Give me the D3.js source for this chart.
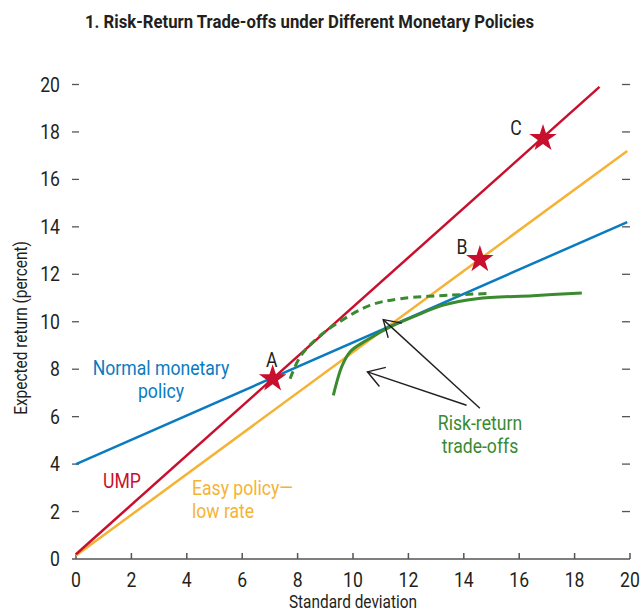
<!DOCTYPE html>
<html>
<head>
<meta charset="UTF-8">
<title>Risk-Return Trade-offs</title>
<script src="https://cdn.jsdelivr.net/npm/d3@7"></script>
<style>
    body { margin: 0; background: #fff; }
    svg text { font-family: 'Liberation Sans Narrow', 'Arial Narrow', 'Roboto', sans-serif; }
    .title { font-weight: bold; font-size: 19px; fill: #231f20; }
    .tick-label { font-size: 20px; fill: #231f20; }
    .axis-title { font-size: 17.5px; fill: #231f20; }
    .note { font-size: 20px; }
</style>
</head>
<body>
<div id="chart"></div>
<script>
// data
const xTicks = [0, 2, 4, 6, 8, 10, 12, 14, 16, 18, 20];
const yTicks = [0, 2, 4, 6, 8, 10, 12, 14, 16, 18, 20];

// straight policy lines: [x, y] endpoints
const normalLine = [[0, 4.0], [19.9, 14.2]];
const umpLine = [[0, 0.2], [18.9, 19.9]];
const easyLine = [[0, 0.15], [19.9, 17.2]];

// risk-return trade-off curves
const tradeoffSolid = [[9.29, 6.9], [9.45, 7.6], [9.59, 8.1], [9.89, 8.73], [10.49, 9.22], [11.34, 9.78],
    [12.3, 10.27], [13.26, 10.7], [14.47, 10.97], [16.5, 11.1], [18.26, 11.21]];
const tradeoffDashed = [[7.73, 7.6], [8.09, 8.52], [8.69, 9.29], [9.41, 9.92], [10.61, 10.69],
    [11.7, 10.97], [13.5, 11.12], [14.9, 11.19]];

// points A, B, C
const pointNames = ["A", "B", "C"];
const pointX = [7.1, 14.58, 16.86];
const pointY = [7.6, 12.62, 17.73];

// arrows from the note to the two curves: [tailX, tailY, tipX, tipY]
const arrows = [[14.58, 6.35, 11.09, 10.09], [14.1, 6.48, 10.52, 7.89]];

const W = 642, H = 612;
const red = "#c8102e", blue = "#0a7bc1", orange = "#f5b335", green = "#3b8a2f";

const svg = d3.select("#chart").append("svg")
    .attr("width", W).attr("height", H);

const x = d3.scaleLinear().domain([0, 20]).range([76, 630]);
const y = d3.scaleLinear().domain([0, 20]).range([559, 84.5]);

// title
svg.append("text").attr("class", "title")
    .attr("x", 85).attr("y", 28)
    .text("1. Risk-Return Trade-offs under Different Monetary Policies");

// x axis
svg.append("line")
    .attr("x1", 72).attr("x2", x(20))
    .attr("y1", y(0)).attr("y2", y(0))
    .attr("stroke", "#555").attr("stroke-width", 1.5);
svg.append("g").selectAll("line").data(xTicks).enter().append("line")
    .attr("x1", d => x(d)).attr("x2", d => x(d))
    .attr("y1", y(0)).attr("y2", y(0) - 6)
    .attr("stroke", "#555").attr("stroke-width", 1.5);
svg.append("g").selectAll("text").data(xTicks).enter().append("text")
    .attr("class", "tick-label")
    .attr("x", d => x(d)).attr("y", 587)
    .attr("text-anchor", "middle")
    .text(d => d);

// y ticks, both sides
svg.append("g").selectAll("line").data(yTicks.slice(1)).enter().append("line")
    .attr("x1", 72).attr("x2", 79)
    .attr("y1", d => y(d)).attr("y2", d => y(d))
    .attr("stroke", "#555").attr("stroke-width", 1.3);
svg.append("g").selectAll("line").data(yTicks.slice(1)).enter().append("line")
    .attr("x1", 622).attr("x2", 630)
    .attr("y1", d => y(d)).attr("y2", d => y(d))
    .attr("stroke", "#555").attr("stroke-width", 1.3);
svg.append("g").selectAll("text").data(yTicks).enter().append("text")
    .attr("class", "tick-label")
    .attr("x", 60).attr("y", d => y(d) + 7)
    .attr("text-anchor", "end")
    .text(d => d);

// axis titles
svg.append("text").attr("class", "axis-title")
    .attr("x", x(10)).attr("y", 608)
    .attr("text-anchor", "middle")
    .text("Standard deviation");
svg.append("text").attr("class", "axis-title")
    .attr("transform", "translate(27,328) rotate(-90)")
    .attr("text-anchor", "middle")
    .text("Expected return (percent)");

const line = d3.line().x(d => x(d[0])).y(d => y(d[1]));
const curve = d3.line().x(d => x(d[0])).y(d => y(d[1])).curve(d3.curveCatmullRom);

// policy lines
svg.append("path").datum(easyLine).attr("d", line)
    .attr("fill", "none").attr("stroke", orange).attr("stroke-width", 2.5);
svg.append("path").datum(normalLine).attr("d", line)
    .attr("fill", "none").attr("stroke", blue).attr("stroke-width", 2.5);
svg.append("path").datum(umpLine).attr("d", line)
    .attr("fill", "none").attr("stroke", red).attr("stroke-width", 2.5);

// trade-off curves
svg.append("path").datum(tradeoffSolid).attr("d", curve)
    .attr("fill", "none").attr("stroke", green).attr("stroke-width", 3);
svg.append("path").datum(tradeoffDashed).attr("d", curve)
    .attr("fill", "none").attr("stroke", green).attr("stroke-width", 3)
    .attr("stroke-dasharray", "8,5");

// stars
const star = d3.symbol().type(d3.symbolStar).size(235);
svg.append("g").selectAll("path").data(pointNames).enter().append("path")
    .attr("d", star)
    .attr("transform", (d, i) => `translate(${x(pointX[i])},${y(pointY[i])})`)
    .attr("fill", red);
const letterDx = [-1, -18, -27];
const letterDy = [-12, -6, -3];
svg.append("g").selectAll("text").data(pointNames).enter().append("text")
    .attr("class", "note")
    .attr("x", (d, i) => x(pointX[i]) + letterDx[i])
    .attr("y", (d, i) => y(pointY[i]) + letterDy[i])
    .attr("text-anchor", "middle")
    .attr("fill", "#231f20")
    .text(d => d);

// arrows
arrows.forEach(a => {
    const x0 = x(a[0]), y0 = y(a[1]), x1 = x(a[2]), y1 = y(a[3]);
    const ang = Math.atan2(y0 - y1, x0 - x1);
    const len = 19, spread = 0.56;
    svg.append("line")
        .attr("x1", x0).attr("y1", y0).attr("x2", x1).attr("y2", y1)
        .attr("stroke", "#231f20").attr("stroke-width", 1.4);
    svg.append("path")
        .attr("d", `M${x1 + len * Math.cos(ang - spread)},${y1 + len * Math.sin(ang - spread)}L${x1},${y1}L${x1 + len * Math.cos(ang + spread)},${y1 + len * Math.sin(ang + spread)}`)
        .attr("fill", "none").attr("stroke", "#231f20").attr("stroke-width", 1.4);
});

// line labels
function label(lines, px, py, color, anchor) {
    const t = svg.append("text").attr("class", "note")
        .attr("fill", color).attr("text-anchor", anchor);
    lines.forEach((s, i) => {
        t.append("tspan").attr("x", px).attr("y", py + i * 23).text(s);
    });
}
label(["Normal monetary", "policy"], 161, 375, blue, "middle");
label(["UMP"], 103, 488, red, "start");
label(["Easy policy\u2014", "low rate"], 192, 495, orange, "start");
label(["Risk-return", "trade-offs"], 480, 430, green, "middle");

// the reference uses a condensed face: squeeze every text horizontally
svg.selectAll("text").each(function () {
    const el = d3.select(this);
    const spans = el.selectAll("tspan");
    if (spans.empty()) {
        const w = this.getComputedTextLength();
        el.attr("textLength", w * 0.88).attr("lengthAdjust", "spacingAndGlyphs");
    } else {
        spans.each(function () {
            const w = this.getComputedTextLength();
            d3.select(this).attr("textLength", w * 0.88).attr("lengthAdjust", "spacingAndGlyphs");
        });
    }
});
</script>
</body>
</html>
